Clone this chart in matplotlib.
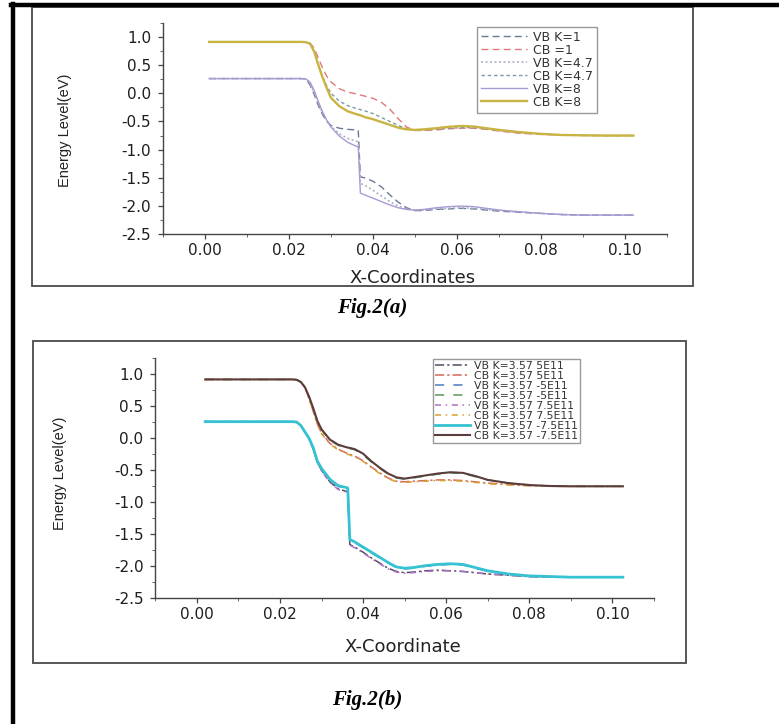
import matplotlib
matplotlib.use("Agg")
import matplotlib.pyplot as plt
from matplotlib.lines import Line2D
from matplotlib.patches import Rectangle
from matplotlib.ticker import MultipleLocator, FormatStrFormatter

# ---- Fig.2(a) data ----
xa = [0.001, 0.010, 0.020, 0.023, 0.024, 0.025, 0.026, 0.027, 0.028, 0.029,
      0.030, 0.032, 0.034, 0.036, 0.0365, 0.0370, 0.038, 0.040, 0.042, 0.044,
      0.046, 0.048, 0.050, 0.052, 0.055, 0.058, 0.061, 0.064, 0.067, 0.070,
      0.075, 0.080, 0.085, 0.090, 0.095, 0.102]
vb_k1 = [0.26, 0.26, 0.26, 0.26, 0.25, 0.15, -0.02, -0.22, -0.38, -0.50,
         -0.57, -0.62, -0.64, -0.65, -0.66, -1.48, -1.50, -1.56, -1.66, -1.80,
         -1.93, -2.03, -2.08, -2.08, -2.06, -2.05, -2.04, -2.05, -2.07, -2.09,
         -2.11, -2.13, -2.15, -2.16, -2.16, -2.16]
cb_k1 = [0.91, 0.91, 0.91, 0.91, 0.91, 0.89, 0.80, 0.62, 0.45, 0.30,
         0.20, 0.08, 0.02, -0.01, -0.02, -0.03, -0.05, -0.09, -0.16, -0.28,
         -0.45, -0.60, -0.66, -0.66, -0.65, -0.63, -0.62, -0.62, -0.64, -0.67,
         -0.71, -0.73, -0.74, -0.75, -0.75, -0.75]
vb_k47 = [0.26, 0.26, 0.26, 0.26, 0.25, 0.17, 0.01, -0.18, -0.35, -0.49,
          -0.59, -0.72, -0.80, -0.85, -0.86, -1.60, -1.63, -1.72, -1.82, -1.92,
          -2.00, -2.05, -2.075, -2.07, -2.05, -2.04, -2.03, -2.04, -2.06, -2.08,
          -2.11, -2.13, -2.15, -2.16, -2.16, -2.16]
cb_k47 = [0.91, 0.91, 0.91, 0.91, 0.905, 0.88, 0.74, 0.50, 0.30, 0.13,
          0.00, -0.14, -0.22, -0.27, -0.28, -0.29, -0.31, -0.36, -0.43, -0.50,
          -0.57, -0.63, -0.655, -0.65, -0.64, -0.62, -0.61, -0.61, -0.63, -0.66,
          -0.70, -0.72, -0.74, -0.745, -0.75, -0.75]
vb_k8 = [0.26, 0.26, 0.26, 0.26, 0.255, 0.20, 0.05, -0.15, -0.33, -0.48,
         -0.60, -0.76, -0.87, -0.94, -0.95, -1.77, -1.80, -1.86, -1.92, -1.98,
         -2.03, -2.06, -2.07, -2.06, -2.03, -2.01, -2.00, -2.01, -2.04, -2.07,
         -2.10, -2.13, -2.15, -2.16, -2.16, -2.16]
cb_k8 = [0.91, 0.91, 0.91, 0.91, 0.905, 0.88, 0.74, 0.50, 0.28, 0.09,
         -0.08, -0.23, -0.32, -0.37, -0.38, -0.39, -0.42, -0.46, -0.51, -0.56,
         -0.61, -0.64, -0.65, -0.64, -0.62, -0.595, -0.58, -0.59, -0.62, -0.65,
         -0.69, -0.72, -0.74, -0.745, -0.75, -0.75]

labels_a = ["VB K=1", "CB =1", "VB K=4.7", "CB K=4.7", "VB K=8", "CB K=8"]

# ---- Fig.2(b) data ----
xb = [0.002, 0.010, 0.020, 0.023, 0.024, 0.025, 0.026, 0.027, 0.028, 0.029,
      0.030, 0.032, 0.034, 0.036, 0.0363, 0.0368, 0.038, 0.040, 0.042, 0.044,
      0.046, 0.048, 0.050, 0.052, 0.055, 0.058, 0.061, 0.064, 0.067, 0.070,
      0.075, 0.080, 0.085, 0.090, 0.095, 0.1025]
vb_p5 = [0.26, 0.26, 0.26, 0.26, 0.255, 0.20, 0.10, -0.01, -0.17, -0.38,
         -0.50, -0.68, -0.79, -0.83, -0.84, -1.66, -1.70, -1.78, -1.87, -1.95,
         -2.03, -2.08, -2.10, -2.09, -2.07, -2.06, -2.07, -2.08, -2.10, -2.12,
         -2.14, -2.16, -2.17, -2.17, -2.17, -2.17]
cb_p5 = [0.92, 0.92, 0.92, 0.92, 0.915, 0.88, 0.79, 0.62, 0.42, 0.22,
         0.08, -0.08, -0.17, -0.23, -0.24, -0.25, -0.28, -0.35, -0.45, -0.54,
         -0.62, -0.67, -0.68, -0.67, -0.66, -0.65, -0.65, -0.66, -0.68, -0.70,
         -0.72, -0.74, -0.75, -0.75, -0.75, -0.75]
vb_m5 = [0.26, 0.26, 0.26, 0.26, 0.255, 0.20, 0.10, 0.00, -0.16, -0.37,
         -0.49, -0.67, -0.75, -0.78, -0.79, -1.59, -1.63, -1.71, -1.79, -1.87,
         -1.95, -2.02, -2.04, -2.03, -2.00, -1.98, -1.97, -1.98, -2.03, -2.08,
         -2.12, -2.15, -2.16, -2.17, -2.17, -2.17]
cb_m5 = [0.92, 0.92, 0.92, 0.92, 0.915, 0.88, 0.80, 0.64, 0.46, 0.26,
         0.13, -0.03, -0.11, -0.15, -0.16, -0.16, -0.18, -0.26, -0.37, -0.47,
         -0.56, -0.62, -0.64, -0.62, -0.59, -0.56, -0.54, -0.55, -0.60, -0.65,
         -0.70, -0.73, -0.745, -0.75, -0.75, -0.75]
vb_p75 = [0.26, 0.26, 0.26, 0.26, 0.255, 0.20, 0.10, -0.01, -0.17, -0.38,
          -0.51, -0.69, -0.80, -0.84, -0.85, -1.67, -1.71, -1.79, -1.88, -1.96,
          -2.04, -2.09, -2.11, -2.10, -2.08, -2.07, -2.07, -2.08, -2.10, -2.12,
          -2.14, -2.16, -2.17, -2.17, -2.17, -2.17]
cb_p75 = [0.92, 0.92, 0.92, 0.92, 0.915, 0.88, 0.79, 0.62, 0.42, 0.22,
          0.07, -0.09, -0.18, -0.24, -0.25, -0.26, -0.29, -0.36, -0.46, -0.55,
          -0.63, -0.68, -0.69, -0.68, -0.67, -0.66, -0.66, -0.67, -0.69, -0.71,
          -0.73, -0.74, -0.75, -0.75, -0.75, -0.75]
vb_m75 = [0.26, 0.26, 0.26, 0.26, 0.255, 0.20, 0.10, 0.00, -0.15, -0.36,
          -0.47, -0.64, -0.74, -0.77, -0.78, -1.58, -1.62, -1.70, -1.78, -1.86,
          -1.94, -2.01, -2.03, -2.02, -1.99, -1.97, -1.96, -1.97, -2.02, -2.07,
          -2.12, -2.15, -2.16, -2.17, -2.17, -2.17]
cb_m75 = [0.92, 0.92, 0.92, 0.92, 0.915, 0.88, 0.80, 0.65, 0.47, 0.27,
          0.14, -0.02, -0.10, -0.14, -0.145, -0.15, -0.17, -0.24, -0.36, -0.46,
          -0.55, -0.61, -0.63, -0.61, -0.58, -0.55, -0.53, -0.54, -0.59, -0.65,
          -0.70, -0.73, -0.745, -0.75, -0.75, -0.75]

labels_b = ["VB K=3.57 5E11", "CB K=3.57 5E11", "VB K=3.57 -5E11", "CB K=3.57 -5E11",
            "VB K=3.57 7.5E11", "CB K=3.57 7.5E11", "VB K=3.57 -7.5E11", "CB K=3.57 -7.5E11"]

W, H = 779, 724
fig = plt.figure(figsize=(W / 100, H / 100), dpi=100)
fig.patch.set_facecolor("white")


def fx(px):
    return px / W


def fy(py):
    return 1 - py / H


# page border (top and left) and the two panel frames
fig.add_artist(Line2D([fx(11), 1], [fy(5), fy(5)], color="black", lw=3.2))
fig.add_artist(Line2D([fx(13), fx(13)], [0, fy(4)], color="black", lw=3.2))
fig.add_artist(Rectangle((fx(32), fy(286)), fx(693 - 32), (286 - 7) / H, fill=False,
                         edgecolor="#4a4a4a", lw=1.3))
fig.add_artist(Rectangle((fx(33), fy(663)), fx(686 - 33), (663 - 341) / H, fill=False,
                         edgecolor="#4a4a4a", lw=1.3))


def style_axes(ax, xlabel):
    ax.set_xlim(-0.01, 0.11)
    ax.set_ylim(-2.5, 1.25)
    for s in ["top", "right"]:
        ax.spines[s].set_visible(False)
    for s in ["left", "bottom"]:
        ax.spines[s].set_color("#444444")
        ax.spines[s].set_linewidth(1.0)
    ax.xaxis.set_major_locator(MultipleLocator(0.02))
    ax.xaxis.set_minor_locator(MultipleLocator(0.01))
    ax.yaxis.set_major_locator(MultipleLocator(0.5))
    ax.yaxis.set_minor_locator(MultipleLocator(0.25))
    ax.xaxis.set_major_formatter(FormatStrFormatter("%.2f"))
    ax.yaxis.set_major_formatter(FormatStrFormatter("%.1f"))
    ax.tick_params(which="major", direction="out", length=3.5, width=0.9, color="#444444",
                   labelsize=11, labelcolor="#1e1e1e")
    ax.tick_params(which="minor", direction="out", length=2, width=0.7, color="#666666")
    ax.tick_params(axis="y", pad=5)
    ax.tick_params(axis="x", pad=3)
    ax.set_xticks([v / 100 for v in range(0, 11, 2)])
    ax.set_ylabel("Energy Level(eV)", family="Liberation Sans", fontsize=10.5,
                  color="#222222")
    ax.set_xlabel(xlabel, fontsize=13, color="#222222")


# ---- panel (a) ----
ax1 = fig.add_axes([0.2092, 0.6764, 0.647, 0.2922])
ax1.plot(xa, vb_k1, color="#6a7896", lw=1.0, ls=(0, (5, 3)))
ax1.plot(xa, cb_k1, color="#e07a7a", lw=1.0, ls=(0, (5, 3)))
ax1.plot(xa, vb_k47, color="#a6b2c6", lw=1.2, ls=(0, (1.2, 1.5)))
ax1.plot(xa, cb_k47, color="#7a9ca2", lw=1.0, ls=(0, (2.5, 2)))
ax1.plot(xa, vb_k8, color="#a99ad4", lw=1.0)
ax1.plot(xa, cb_k8, color="#c9b443", lw=1.7)
style_axes(ax1, "X-Coordinates")
ax1.yaxis.set_label_coords(-0.181, 0.49)
ax1.xaxis.set_label_coords(0.496, -0.164)
ax1.legend(labels_a, loc="upper left", bbox_to_anchor=(fx(477), fy(27)),
           bbox_transform=fig.transFigure, fontsize=9, frameon=True, fancybox=False,
           edgecolor="#999999", framealpha=1, borderaxespad=0, borderpad=0.3,
           labelspacing=0.0, handlelength=3.7, handletextpad=0.5,
           labelcolor="#333333").get_frame().set_linewidth(1.0)

# ---- panel (b) ----
ax2 = fig.add_axes([0.1994, 0.1736, 0.6402, 0.3315])
ax2.plot(xb, vb_p5, color="#4e4e60", lw=1.1, ls=(0, (6, 2, 1.5, 2)))
ax2.plot(xb, cb_p5, color="#d46a5a", lw=1.1, ls=(0, (6, 2, 1.5, 2)))
ax2.plot(xb, vb_m5, color="#4a7ac0", lw=1.1, ls=(0, (6, 6)))
ax2.plot(xb, cb_m5, color="#5a9a5a", lw=1.1, ls=(0, (6, 6)))
ax2.plot(xb, vb_p75, color="#b070c8", lw=1.1, ls=(0, (4, 3, 1, 3)))
ax2.plot(xb, cb_p75, color="#d8a030", lw=1.1, ls=(0, (4, 3, 1, 3)))
ax2.plot(xb, vb_m75, color="#35c2d2", lw=2.0)
ax2.plot(xb, cb_m75, color="#5a3c3c", lw=1.5)
style_axes(ax2, "X-Coordinate")
ax2.yaxis.set_label_coords(-0.178, 0.52)
ax2.xaxis.set_label_coords(0.497, -0.165)
ax2.legend(labels_b, loc="upper left", bbox_to_anchor=(fx(433), fy(359)),
           bbox_transform=fig.transFigure, fontsize=7.8, frameon=True, fancybox=False,
           edgecolor="#999999", framealpha=1, borderaxespad=0, borderpad=0.2,
           labelspacing=0.0, handlelength=3.2, handletextpad=0.35,
           labelcolor="#333333").get_frame().set_linewidth(1.0)

# captions
fig.text(fx(372), fy(308), "Fig.2(a)", family="Liberation Serif", weight="bold",
         style="italic", fontsize=15, ha="center", va="center")
fig.text(fx(367), fy(700), "Fig.2(b)", family="Liberation Serif", weight="bold",
         style="italic", fontsize=15, ha="center", va="center")

fig.savefig("out.png", dpi=100)
